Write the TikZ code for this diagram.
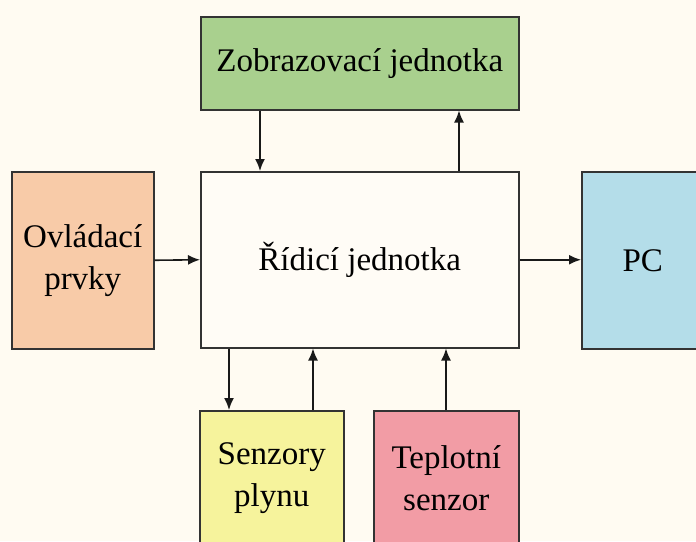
\documentclass[tikz,border=0pt]{standalone}
\usepackage{fontspec}
\setmainfont{Liberation Serif}
\usetikzlibrary{arrows.meta}
\definecolor{bgc}{HTML}{FFFBF2}
\definecolor{greenc}{HTML}{A9D08E}
\definecolor{peachc}{HTML}{F8CBA8}
\definecolor{bluec}{HTML}{B4DDE9}
\definecolor{yellowc}{HTML}{F6F39C}
\definecolor{pinkc}{HTML}{F29CA5}
\definecolor{mainc}{HTML}{FFFCF6}
\definecolor{edgec}{HTML}{333333}
\tikzset{
  blk/.style={draw=edgec, line width=1.5pt, rectangle, inner sep=0pt, anchor=north west,
    align=center, font=\fontsize{33}{42}\selectfont},
  arr/.style={draw=black!90, line width=1.6pt, -{Latex[length=12pt,width=10pt]}}
}
\begin{document}
\begin{tikzpicture}[x=1pt,y=-1pt]
\fill[bgc] (0,0) rectangle (696,541);
\useasboundingbox (0,0) rectangle (696,541);
\clip (0,0) rectangle (696,541);
\node[blk, fill=greenc, minimum width=318pt, minimum height=93pt] (zob) at (200,16) {Zobrazovací jednotka};
\node[blk, fill=mainc, minimum width=318pt, minimum height=176pt] (rid) at (200,171) {Řídicí jednotka};
\node[blk, fill=peachc, minimum width=142pt, minimum height=177pt] (ovl) at (11,171) {Ovládací\\prvky};
\node[blk, fill=bluec, minimum width=122pt, minimum height=177pt] (pc) at (581,171) {PC};
\node[blk, fill=yellowc, minimum width=144pt, minimum height=134pt] (sen) at (199,410) {Senzory\\plynu};
\node[blk, fill=pinkc, minimum width=145pt, minimum height=134pt] (tep) at (373,410) {Teplotní\\senzor};
% connectors
\draw[arr] ([xshift=60pt]zob.south west) -- ([xshift=60pt]rid.north west);
\draw[arr] ([xshift=259pt]rid.north west) -- ([xshift=259pt]zob.south west);
\draw[arr] (ovl.east) -- (rid.west);
\draw[arr] (rid.east) -- (pc.west |- rid.east);
\draw[arr] ([xshift=29pt]rid.south west) -- ([xshift=30pt]sen.north west);
\draw[arr] ([xshift=114pt]sen.north west) -- ([xshift=113pt]rid.south west);
\draw[arr] ([xshift=73pt]tep.north west) -- ([xshift=246pt]rid.south west);
\end{tikzpicture}
\end{document}
